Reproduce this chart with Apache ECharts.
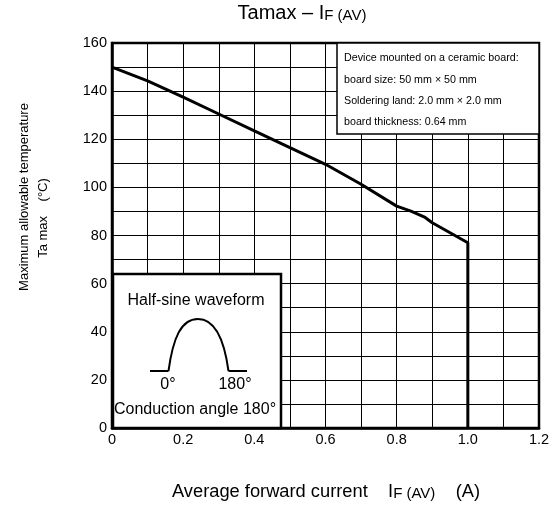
<!DOCTYPE html>
<html>
<head>
<meta charset="utf-8">
<script src="https://cdn.jsdelivr.net/npm/echarts@6/dist/echarts.min.js"></script>
<style>
html,body{margin:0;padding:0;background:#fff;}
#c{width:553px;height:506px;}
</style>
</head>
<body>
<div id="c"></div>
<script>
// Data
var currentA = [0, 0.1, 0.2, 0.3, 0.4, 0.5, 0.6, 0.7, 0.8, 0.84, 0.88, 0.9, 1.0, 1.0];
var tempMax  = [150, 144.3, 137.5, 130.5, 123.5, 116.5, 109.6, 101.3, 92.2, 90.1, 87.5, 85.3, 77, 0];
var xTickLabels = ['0', '0.2', '0.4', '0.6', '0.8', '1.0', '1.2'];
var yTickLabels = ['0', '20', '40', '60', '80', '100', '120', '140', '160'];
var noteLines = [
  'Device mounted on a ceramic board:',
  'board size: 50 mm \u00d7 50 mm',
  'Soldering land: 2.0 mm \u00d7 2.0 mm',
  'board thickness: 0.64 mm'
];

var FONT = '"Liberation Sans", Arial, sans-serif';
var chart = echarts.init(document.getElementById('c'), null, {renderer: 'canvas'});

var pts = currentA.map(function (x, i) { return [x, tempMax[i]]; });

var graphics = [];
// Title
graphics.push({
  type: 'text', x: 302, y: 13, z: 10,
  style: {
    text: '{a|Tamax \u2013 I}{b|F (AV)}',
    align: 'center', verticalAlign: 'middle',
    rich: {
      a: {fontSize: 20, fontFamily: FONT, fill: '#000', verticalAlign: 'bottom'},
      b: {fontSize: 15, fontFamily: FONT, fill: '#000', verticalAlign: 'bottom'}
    }
  }
});
// Y axis name
graphics.push({
  type: 'text', x: 24, y: 197, rotation: Math.PI / 2, z: 10,
  style: {text: 'Maximum allowable temperature', fontSize: 13, fontFamily: FONT, fill: '#000', align: 'center', verticalAlign: 'middle'}
});
graphics.push({
  type: 'text', x: 43, y: 218, rotation: Math.PI / 2, z: 10,
  style: {text: 'Ta max    (\u00b0C)', fontSize: 13, fontFamily: FONT, fill: '#000', align: 'center', verticalAlign: 'middle'}
});
// X axis name
graphics.push({
  type: 'text', x: 326, y: 492, z: 10,
  style: {
    text: '{a|Average forward current    I}{b|F (AV)}{a|    (A)}',
    align: 'center', verticalAlign: 'middle',
    rich: {
      a: {fontSize: 18.3, fontFamily: FONT, fill: '#000', verticalAlign: 'bottom'},
      b: {fontSize: 15, fontFamily: FONT, fill: '#000', verticalAlign: 'bottom'}
    }
  }
});
// Note box (top right)
graphics.push({
  type: 'rect', z: 20,
  shape: {x: 337, y: 43, width: 202, height: 91},
  style: {fill: '#fff', stroke: '#000', lineWidth: 1.5}
});
var noteY = [58.5, 80, 101, 122];
noteLines.forEach(function (t, i) {
  graphics.push({
    type: 'text', z: 21, x: 344, y: noteY[i],
    style: {text: t, fontSize: 10.7, fontFamily: FONT, fill: '#000', verticalAlign: 'middle'}
  });
});
// Waveform inset box
graphics.push({
  type: 'rect', z: 20,
  shape: {x: 113, y: 274, width: 168, height: 154},
  style: {fill: '#fff', stroke: '#000', lineWidth: 2.5}
});
graphics.push({
  type: 'text', z: 21, x: 196, y: 301,
  style: {text: 'Half-sine waveform', fontSize: 16, fontFamily: FONT, fill: '#000', align: 'center', verticalAlign: 'middle'}
});
graphics.push({
  type: 'polyline', z: 21,
  shape: {points: [[150, 371], [168.5, 371]]},
  style: {fill: null, stroke: '#000', lineWidth: 2}
});
graphics.push({
  type: 'polyline', z: 21,
  shape: {points: [[228.5, 371], [247, 371]]},
  style: {fill: null, stroke: '#000', lineWidth: 2}
});
graphics.push({
  type: 'bezierCurve', z: 21,
  shape: {x1: 168.5, y1: 371, cpx1: 173, cpy1: 338, cpx2: 181, cpy2: 319, x2: 198, y2: 319},
  style: {fill: null, stroke: '#000', lineWidth: 2}
});
graphics.push({
  type: 'bezierCurve', z: 21,
  shape: {x1: 198, y1: 319, cpx1: 215, cpy1: 319, cpx2: 224, cpy2: 338, x2: 228.5, y2: 371},
  style: {fill: null, stroke: '#000', lineWidth: 2}
});
graphics.push({
  type: 'text', z: 21, x: 168, y: 385,
  style: {text: '0\u00b0', fontSize: 16, fontFamily: FONT, fill: '#000', align: 'center', verticalAlign: 'middle'}
});
graphics.push({
  type: 'text', z: 21, x: 235, y: 385,
  style: {text: '180\u00b0', fontSize: 16, fontFamily: FONT, fill: '#000', align: 'center', verticalAlign: 'middle'}
});
graphics.push({
  type: 'text', z: 21, x: 195, y: 410,
  style: {text: 'Conduction angle 180\u00b0', fontSize: 16, fontFamily: FONT, fill: '#000', align: 'center', verticalAlign: 'middle'}
});

var option = {
  backgroundColor: '#fff',
  animation: false,
  grid: {left: 112, right: 14, top: 43, bottom: 78, show: true, borderColor: '#000', borderWidth: 2.5, backgroundColor: 'transparent'},
  xAxis: {
    type: 'value', min: 0, max: 1.2, interval: 0.1,
    axisLine: {show: true, lineStyle: {color: '#000', width: 2.5}},
    axisTick: {show: false},
    axisLabel: {
      color: '#000', fontSize: 14.5, fontFamily: FONT, margin: 4,
      formatter: function (v) {
        var k = Math.round(v * 10);
        return k % 2 === 0 ? xTickLabels[k / 2] : '';
      }
    },
    splitLine: {show: true, lineStyle: {color: '#000', width: 1}}
  },
  yAxis: {
    type: 'value', min: 0, max: 160, interval: 10,
    axisLine: {show: true, lineStyle: {color: '#000', width: 2.5}},
    axisTick: {show: false},
    axisLabel: {
      color: '#000', fontSize: 14.5, fontFamily: FONT, margin: 5,
      formatter: function (v) {
        var k = Math.round(v / 10);
        return k % 2 === 0 ? yTickLabels[k / 2] : '';
      }
    },
    splitLine: {show: true, lineStyle: {color: '#000', width: 1}}
  },
  series: [{
    type: 'line', data: pts, showSymbol: false, symbol: 'none',
    lineStyle: {color: '#000', width: 3}, clip: false, z: 5
  }],
  graphic: graphics
};
chart.setOption(option);
</script>
</body>
</html>
